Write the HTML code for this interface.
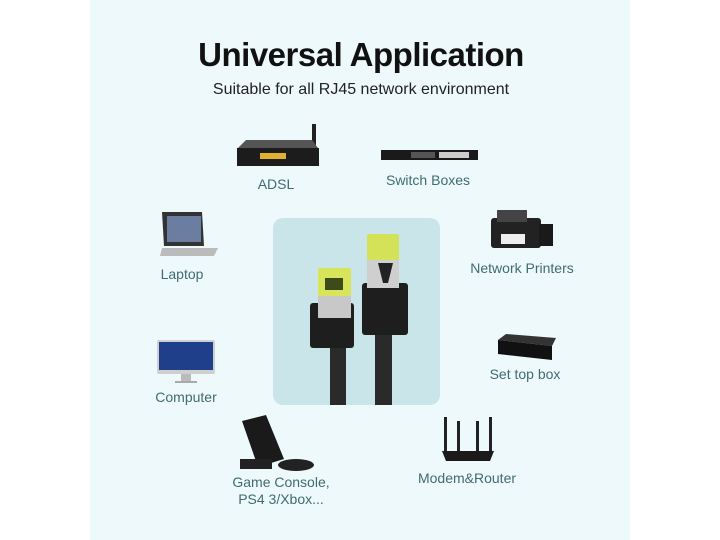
<!DOCTYPE html>
<html><head><style>
body{margin:0;width:720px;height:540px;background:#fff;position:relative;overflow:hidden;font-family:"Liberation Sans",sans-serif}
.bg{position:absolute;left:90px;top:0;width:540px;height:540px;background:#eef9fb}
.t{position:absolute;white-space:nowrap;transform:translateX(-50%);text-align:center}
.l{font-size:14px;color:#3f6c70}
.d{position:absolute}
</style></head><body>
<div class="bg"></div>
<div class="t" style="left:361px;top:36px;font-size:33px;font-weight:bold;color:#111;letter-spacing:-0.5px">Universal Application</div>
<div class="t" style="left:361px;top:81px;font-size:16px;color:#222">Suitable for all RJ45 network environment</div>

<div class="d" style="left:273px;top:218px;width:167px;height:187px;background:#c9e5e9;border-radius:10px"></div>
<svg class="d" style="left:273px;top:218px" width="167" height="187">
<rect x="57" y="125" width="16" height="62" fill="#2a2a2a"/>
<rect x="102" y="110" width="17" height="77" fill="#2a2a2a"/>
<rect x="37" y="85" width="44" height="45" rx="3" fill="#1e1e1e"/>
<rect x="45" y="70" width="33" height="30" fill="#c8c8c8"/>
<rect x="45" y="50" width="33" height="28" rx="2" fill="#d8e45a"/>
<rect x="52" y="60" width="18" height="12" fill="#3d4a1a"/>
<rect x="89" y="65" width="46" height="52" rx="3" fill="#1e1e1e"/>
<rect x="94" y="40" width="32" height="30" fill="#cfcfcf"/>
<rect x="94" y="16" width="32" height="26" rx="2" fill="#d4e258"/>
<polygon points="105,45 120,45 115,65 110,65" fill="#222"/>
</svg>

<!-- ADSL -->
<svg class="d" style="left:236px;top:122px" width="86" height="46">
<rect x="76" y="2" width="4" height="30" fill="#222"/>
<polygon points="2,26 10,18 76,18 82,26" fill="#555"/>
<rect x="1" y="26" width="82" height="18" fill="#1c1c1c"/>
<rect x="24" y="31" width="26" height="6" fill="#e0b030"/>
</svg>
<div class="t l" style="left:276px;top:176px">ADSL</div>

<svg class="d" style="left:381px;top:148px" width="97" height="14">
<rect x="0" y="2" width="97" height="10" fill="#1a1a1a"/>
<rect x="58" y="4" width="30" height="6" fill="#ccc"/>
<rect x="30" y="4" width="24" height="6" fill="#555"/>
</svg>
<div class="t l" style="left:428px;top:172px">Switch Boxes</div>

<svg class="d" style="left:158px;top:210px" width="62" height="50">
<polygon points="4,2 44,2 46,36 6,36" fill="#333"/>
<rect x="9" y="6" width="34" height="26" fill="#6b7da0"/>
<polygon points="4,38 60,38 56,46 2,46" fill="#bbb"/>
</svg>
<div class="t l" style="left:182px;top:266px">Laptop</div>

<svg class="d" style="left:489px;top:208px" width="66" height="42">
<rect x="2" y="10" width="50" height="30" rx="3" fill="#222"/>
<rect x="50" y="16" width="14" height="22" fill="#1a1a1a"/>
<rect x="8" y="2" width="30" height="12" fill="#444"/>
<rect x="12" y="26" width="24" height="10" fill="#eee"/>
</svg>
<div class="t l" style="left:522px;top:260px">Network Printers</div>

<svg class="d" style="left:157px;top:340px" width="58" height="44">
<rect x="0" y="0" width="58" height="34" rx="2" fill="#cfcfcf"/>
<rect x="2" y="2" width="54" height="28" fill="#1f3f8a"/>
<rect x="24" y="34" width="10" height="7" fill="#bbb"/>
<rect x="18" y="41" width="22" height="2" fill="#aaa"/>
</svg>
<div class="t l" style="left:186px;top:389px">Computer</div>

<svg class="d" style="left:494px;top:332px" width="64" height="30">
<polygon points="4,8 12,2 62,6 58,14" fill="#333"/>
<polygon points="4,8 58,14 58,28 4,22" fill="#111"/>
</svg>
<div class="t l" style="left:525px;top:366px">Set top box</div>

<svg class="d" style="left:238px;top:415px" width="80" height="56">
<polygon points="4,6 28,0 46,44 20,52" fill="#1a1a1a"/>
<rect x="2" y="44" width="32" height="10" fill="#222"/>
<ellipse cx="58" cy="50" rx="18" ry="6" fill="#222"/>
</svg>
<div class="t l" style="left:281px;top:474px;line-height:17px">Game Console,<br>PS4 3/Xbox...</div>

<svg class="d" style="left:440px;top:415px" width="56" height="50">
<rect x="4" y="2" width="3" height="36" fill="#222"/>
<rect x="17" y="6" width="3" height="32" fill="#222"/>
<rect x="36" y="6" width="3" height="32" fill="#222"/>
<rect x="49" y="2" width="3" height="36" fill="#222"/>
<polygon points="2,36 54,36 50,46 6,46" fill="#1a1a1a"/>
</svg>
<div class="t l" style="left:467px;top:470px">Modem&amp;Router</div>
</body></html>
